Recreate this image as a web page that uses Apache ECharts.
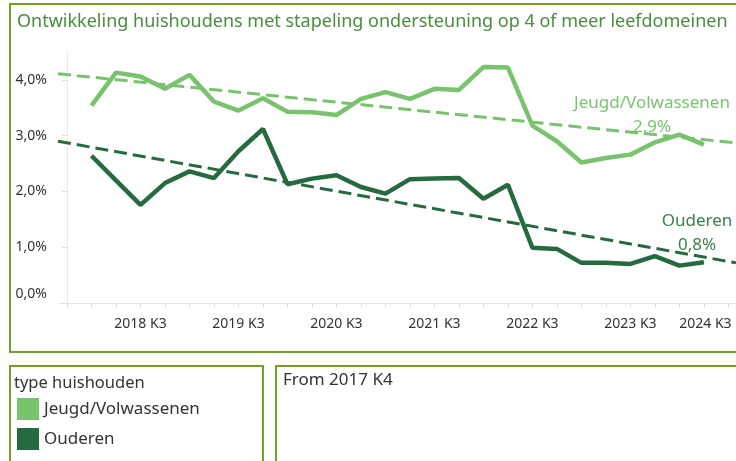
<!DOCTYPE html>
<html>
<head>
<meta charset="utf-8">
<script src="https://cdn.jsdelivr.net/npm/echarts@6/dist/echarts.min.js"></script>
<style>
  html, body { margin: 0; padding: 0; background: #fff; }
  #chart { width: 736px; height: 461px; }
</style>
</head>
<body>
<div id="chart"></div>
<script>
// kwartalen op de x-as (index 0 = 2017 K4)
const quarters = [
  '2017 K4',
  '2018 K1', '2018 K2', '2018 K3', '2018 K4',
  '2019 K1', '2019 K2', '2019 K3', '2019 K4',
  '2020 K1', '2020 K2', '2020 K3', '2020 K4',
  '2021 K1', '2021 K2', '2021 K3', '2021 K4',
  '2022 K1', '2022 K2', '2022 K3', '2022 K4',
  '2023 K1', '2023 K2', '2023 K3', '2023 K4',
  '2024 K1', '2024 K2', '2024 K3'
]
const labelQuarters = ['2018 K3', '2019 K3', '2020 K3', '2021 K3', '2022 K3', '2023 K3', '2024 K3']
const yTicks = [0, 1, 2, 3, 4]

// waarden in %, 2018 K1 t/m 2024 K2
const jeugd = [3.54, 4.13, 4.06, 3.84, 4.09, 3.61, 3.45, 3.67, 3.43, 3.42, 3.37, 3.66, 3.78,
  3.66, 3.84, 3.82, 4.23, 4.22, 3.18, 2.90, 2.52, 2.60, 2.66, 2.88, 3.02, 2.84]
const ouderen = [2.64, 2.20, 1.76, 2.15, 2.36, 2.24, 2.72, 3.12, 2.13, 2.23, 2.29, 2.08, 1.96,
  2.22, 2.23, 2.24, 1.87, 2.12, 0.99, 0.97, 0.72, 0.72, 0.70, 0.84, 0.67, 0.73]
const firstIdx = 1

// trendlijnen: begin- en eindwaarde aan de randen van het plotvlak
const trendJeugd = [4.11, 2.87]
const trendOuderen = [2.90, 0.72]
const trendLabels = ['2,9%', '0,8%']

const xMin = -0.367
const xMax = 27.31

const lightGreen = '#79c36f'
const darkGreen = '#266b3f'
const olive = '#72a028'
const font = 'Noto Sans'

const toSeries = (arr) => arr.map((v, i) => [firstIdx + i, v])
const fmtPct = (v) => v.toFixed(1).replace('.', ',') + '%'

const chart = echarts.init(document.getElementById('chart'))

const trendSeries = (name, vals, color, labelColor, label, offset) => ({
  name: name + ' trend',
  type: 'line',
  data: [
    { value: [xMin, vals[0]], label: { show: false } },
    {
      value: [xMax, vals[1]],
      label: {
        show: true,
        position: 'top',
        distance: 5,
        offset: offset,
        formatter: '{n|' + name + '}\n{n|' + label + '}',
        rich: {
          n: { fontFamily: font, fontSize: 17, color: labelColor, lineHeight: 24, align: 'center' }
        }
      }
    }
  ],
  showSymbol: true,
  symbol: 'circle',
  symbolSize: 0.01,
  itemStyle: { color: 'rgba(0,0,0,0)' },
  silent: true,
  lineStyle: { color: color, width: 3, type: [13, 6] },
  z: 1
})

chart.setOption({
  animation: false,
  title: {
    text: 'Ontwikkeling huishoudens met stapeling ondersteuning op 4 of meer leefdomeinen',
    left: 17,
    top: 13,
    padding: 0,
    textStyle: { fontFamily: font, fontSize: 18, fontWeight: 'normal', color: '#4b8c3e' }
  },
  legend: {
    data: ['Jeugd/Volwassenen', 'Ouderen'],
    orient: 'vertical',
    left: 17,
    top: 398,
    padding: 0,
    icon: 'rect',
    itemWidth: 22,
    itemHeight: 22,
    itemGap: 8,
    selectedMode: false,
    textStyle: { fontFamily: font, fontSize: 17, color: '#333' }
  },
  grid: { left: 58, right: 0, top: 52, bottom: 158 },
  xAxis: {
    type: 'value',
    min: xMin,
    max: xMax,
    splitLine: { show: false },
    axisLine: { show: true, lineStyle: { color: '#e6e6e6' } },
    axisTick: {
      show: true,
      length: 4,
      customValues: quarters.map((q, i) => i),
      lineStyle: { color: '#dcdcdc' }
    },
    axisLabel: {
      customValues: labelQuarters.map(q => quarters.indexOf(q)),
      margin: 14,
      fontFamily: font,
      fontSize: 14,
      color: '#333',
      formatter: (v) => {
        const q = quarters[Math.round(v)]
        return Math.round(v) === quarters.length - 1 ? '{e|' + q + '}' : q
      },
      rich: { e: { fontFamily: font, fontSize: 14, color: '#333', padding: [0, 46, 0, 0] } }
    }
  },
  yAxis: {
    type: 'value',
    min: 0,
    max: 4.5,
    splitLine: { show: false },
    axisLine: { show: true, lineStyle: { color: '#e8e8e8' } },
    axisTick: { show: true, length: 5, customValues: yTicks, lineStyle: { color: '#e0e0e0' } },
    axisLabel: {
      customValues: yTicks,
      margin: 11,
      fontFamily: font,
      fontSize: 14,
      color: '#333',
      formatter: (v) => v === 0 ? '{z|' + fmtPct(v) + '}' : fmtPct(v),
      rich: { z: { fontFamily: font, fontSize: 14, color: '#333', padding: [0, 0, 17, 0] } }
    }
  },
  series: [
    trendSeries('Jeugd/Volwassenen', trendJeugd, lightGreen, lightGreen, trendLabels[0], [-84, 1]),
    trendSeries('Ouderen', trendOuderen, darkGreen, '#3a7f4c', trendLabels[1], [-39, -1]),
    {
      name: 'Jeugd/Volwassenen',
      type: 'line',
      data: toSeries(jeugd),
      showSymbol: false,
      symbol: 'none',
      color: lightGreen,
      lineStyle: { width: 4.5, color: lightGreen },
      z: 3
    },
    {
      name: 'Ouderen',
      type: 'line',
      data: toSeries(ouderen),
      showSymbol: false,
      symbol: 'none',
      color: darkGreen,
      lineStyle: { width: 4.5, color: darkGreen },
      z: 3
    }
  ],
  graphic: [
    { type: 'rect', shape: { x: 10, y: 4, width: 760, height: 348 }, style: { fill: 'none', stroke: olive, lineWidth: 2 }, silent: true },
    { type: 'rect', shape: { x: 10, y: 366, width: 253, height: 120 }, style: { fill: 'none', stroke: olive, lineWidth: 2 }, silent: true },
    { type: 'rect', shape: { x: 276, y: 366, width: 500, height: 120 }, style: { fill: 'none', stroke: olive, lineWidth: 2 }, silent: true },
    { type: 'text', x: 14, y: 383, style: { text: 'type huishouden', fontFamily: font, fontSize: 16.5, fill: '#333', verticalAlign: 'middle' } },
    { type: 'text', x: 283, y: 380, style: { text: 'From 2017 K4', fontFamily: font, fontSize: 17, fill: '#333', verticalAlign: 'middle' } }
  ]
})
</script>
</body>
</html>
